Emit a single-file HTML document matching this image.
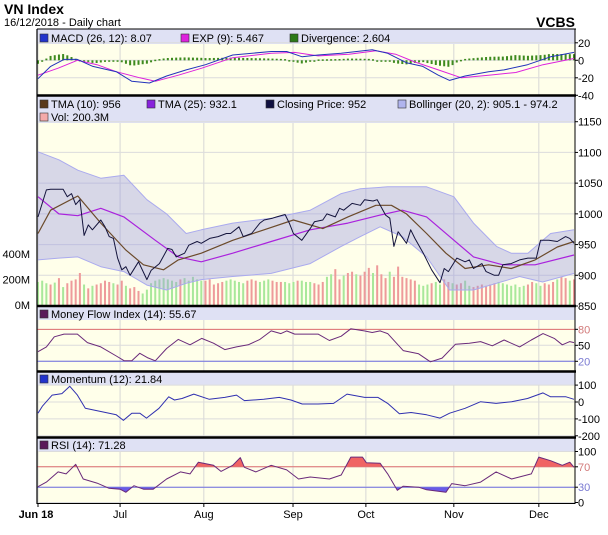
<!DOCTYPE html>
<html><head><meta charset="utf-8">
<style>
html,body{margin:0;padding:0;background:#fff;}
body{width:608px;height:530px;overflow:hidden;font-family:"Liberation Sans",sans-serif;}
svg text{font-family:"Liberation Sans",sans-serif;}
</style></head>
<body>
<svg id="chart" width="608" height="530" viewBox="0 0 608 530" xmlns="http://www.w3.org/2000/svg">
<text x="4" y="14" font-size="14" font-weight="bold" fill="#000">VN Index</text>
<text x="4" y="26" font-size="11" fill="#000">16/12/2018 - Daily chart</text>
<text x="575" y="27" font-size="14" font-weight="bold" fill="#000" text-anchor="end">VCBS</text>
<g id="layer"></g>
</svg>
<script>
// ---- data (day index from Jun 18, trading days) ----
const monthLabels = ["Jun 18","Jul","Aug","Sep","Oct","Nov","Dec"];
const monthDays = [0,19.6,39.6,60.9,78.3,99.3,119.6];
const closeDays = [0,2,3,6,7,8,9,10,11,12,13,15,16,17,18,19,20,21,22,24,26,27,29,31,32,33,35,36,38,39,41,43,45,46,48,49,51,53,54,56,57,59,60,61,63,65,66,68,69,71,72,73,75,77,78,80,81,83,84,85,86,88,89,90,92,94,96,97,98,100,102,103,104,106,107,109,110,111,113,115,117,119,120,122,124,126,127,128];
const closeVals = [995,1039,1040,1040,1028,1033,1015,1023,965,982,974,990,979,963,960,928,909,914,900,922,893,908,919,944,942,930,936,949,955,952,960,963,968,968,979,963,968,985,990,993,995,999,985,968,957,976,987,990,1000,995,1009,1006,1017,1014,1023,1021,1023,998,993,947,971,952,974,960,936,909,888,911,906,928,922,925,911,919,906,900,900,917,919,925,928,928,957,957,955,963,960,952];
const tma10Days = [0,3,9.5,15,21,25.2,30,33.5,39,46.5,54,61,68,74,80.7,84.4,88,92.8,97.4,102,107.6,113,118.7,124,128];
const tma10Vals = [968,1006,1029,985,941,917,909,925,936,957,974,990,976,995,1014,1014,1000,968,936,911,917,911,925,946,955];
const tma25Days = [0,5,9.5,15,20.5,28,33.5,39,46.5,55.7,65,74,81.7,87,92.8,98.3,104,111,118.7,128];
const tma25Vals = [1028,1000,997,1009,995,957,930,922,936,955,974,985,998,1006,995,963,930,917,917,933];
const bbUpDays = [0,5,9.5,15,20.5,26,30.7,35.4,39,46.5,55.7,65,72.4,77,83.5,88,92.8,99.3,104,109.5,113,117,122.4,128];
const bbUpVals = [1101,1088,1071,1058,1063,1023,1000,968,974,985,993,1006,1033,1041,1044,1044,1044,1028,985,947,936,936,968,974];
const bbLoDays = [0,5,9.5,15,20.5,26,30.7,35.4,39,46.5,55.7,65,72.4,77,81.7,87,92.8,98.3,104,109.5,115,120.5,128];
const bbLoVals = [925,928,930,914,906,884,876,887,893,898,903,919,947,963,979,963,930,876,876,887,898,889,903];
const volVals = [180,190,170,160,175,210,140,170,190,200,250,160,130,150,160,170,190,180,170,160,190,150,130,140,110,90,120,170,190,200,210,200,190,180,200,210,190,220,200,190,190,200,160,170,180,190,200,190,180,170,190,200,190,180,190,200,190,180,180,180,170,180,190,190,180,180,170,160,180,220,240,280,200,230,250,260,240,230,260,290,250,310,240,210,260,220,300,220,210,200,190,160,150,160,170,180,160,200,180,170,160,170,190,150,140,150,160,150,160,170,180,170,160,150,160,140,150,160,180,170,150,170,160,180,200,220,210,190,200];
const volDir = "gggrgrgrrrrgrgrrrrgrrgrrrgggggggggrgggggrrrrrgggggrrrgggrrrgggrgggrrrggrrgrrgrrrgrrrgrrrrrrgggrggrrgrrggrrrrrrgggggggrrggrrrgrrgr";
const macdDays = [0,3,6.2,9.4,13.1,18.7,22.4,26.6,30.7,35.4,40,46.5,55.7,59.4,63.1,66.9,72.4,79.8,83.5,88.1,91.9,95.6,98.3,102,107.6,111.3,116.9,122.4,128];
const macdVals = [-21,-7,1,1,-7,-13,-24,-26,-18,-11,-5,6,10,10,4,6,8,12,8,-3,-7,-17,-23,-18,-13,-11,-5,4,9];
const expDays = [0,4.8,9.4,14.1,18.7,24.3,28,33.5,39.1,46.5,55.7,61.3,66.9,74.3,80.7,85.4,90,95.6,101.1,107.6,114.1,120.6,128];
const expVals = [-17,-9,0,-5,-13,-20,-24,-17,-9,3,8,9,5,7,11,7,-2,-11,-20,-17,-14,-5,2];
const mfiDays = [0,2,3.9,6.2,9.4,11.8,15,18.7,20.6,22.4,24.3,26.1,28,30.7,33.5,36.3,39.1,41.9,44.6,47.4,50.2,53,55.7,58,59.4,61.3,66.9,69.6,72.4,74.7,77.9,79.8,81.7,83.5,87.2,90.9,93.7,96.5,99.7,103,105.7,108.5,111.3,115,117.8,120.6,123.3,125.2,127,128];
const mfiVals = [38,47,66,71,71,55,47,30,21,21,35,27,21,44,61,51,63,54,42,47,51,61,77,72,77,71,71,59,67,81,77,74,77,72,40,34,19,26,52,54,57,49,60,47,60,72,63,51,57,55];
const momDays = [0,1.1,3.4,5.7,7.6,9.4,11.3,15,18.7,20.4,22.4,24.3,25.9,28.9,31.2,32.6,34.4,37.2,40.9,44.6,47.4,49.3,53.9,57.6,60.4,63.1,66.9,70.6,73.8,78,81.2,83.5,86.3,89.1,92.8,96,98.3,102,105.7,109.4,113.1,116.9,120.6,122.4,126.1,128];
const momVals = [-66,-23,41,50,93,41,-37,-56,-76,-109,-66,-66,-95,-37,31,12,21,47,16,27,41,8,16,27,12,-12,-12,-8,47,27,27,-8,-70,-62,-76,-95,-66,-37,2,-8,2,21,54,31,31,16];
const rsiDays = [0,2,4.8,6.7,9,10.8,14.1,16.9,19.6,21,22.9,25.2,27.5,30.7,34,36.3,38.3,41.9,43.7,46.5,48.3,49.3,52,55.7,59.4,62.2,65,69.6,72.4,74.7,77.5,78.4,81.7,83.5,85.8,87.2,90.9,92.8,97.4,98.8,102,105.7,109.4,113.1,117.8,119.6,122.4,125.2,127,128];
const rsiVals = [31,40,60,56,75,46,38,28,26,20,33,26,26,46,60,56,79,73,61,73,88,69,60,73,64,46,50,46,54,89,89,78,77,56,24,32,30,25,20,37,33,40,60,46,56,89,82,73,79,69];

// ---- layout helpers ----
const X0 = 38, X1 = 574, L = 37, R = 575;
const dx = d => X0 + d * (X1 - X0) / 128;
const NS = "http://www.w3.org/2000/svg";
const layer = document.getElementById('layer');
function mk(tag, attrs, parent) {
  const e = document.createElementNS(NS, tag);
  for (const k in attrs) e.setAttribute(k, attrs[k]);
  (parent || layer).appendChild(e);
  return e;
}
function pts(days, vals, fy) { return days.map((d, i) => dx(d).toFixed(1) + ',' + fy(vals[i]).toFixed(1)).join(' '); }
function interp(days, vals, d) {
  if (d <= days[0]) return vals[0];
  for (let i = 1; i < days.length; i++) if (d <= days[i]) { const t = (d - days[i-1]) / (days[i] - days[i-1]); return vals[i-1] + t * (vals[i] - vals[i-1]); }
  return vals[vals.length - 1];
}
function panel(name, top, legendH, bottom) {
  const g = mk('g', {});
  
  
  mk('rect', {x: L, y: top, width: R - L, height: bottom - top, fill: '#ffffea'}, g);
  mk('rect', {x: L, y: top, width: R - L, height: legendH, fill: '#dfe1f4'}, g);
  monthDays.forEach(d => mk('line', {x1: dx(d), x2: dx(d), y1: top + legendH, y2: bottom, stroke: '#d6d6d6', 'stroke-width': 1}, g));
  return g;
}
function hgrid(g, ys, labels, colors) {
  ys.forEach((y, i) => {
    mk('line', {x1: L, x2: R, y1: y, y2: y, stroke: '#dcdcdc', 'stroke-width': 1}, g);
    mk('line', {x1: R, x2: R + 3, y1: y, y2: y, stroke: '#000'}, g);
    const t = mk('text', {x: R + 3, y: y + 4, 'font-size': 11, fill: colors ? colors[i] : '#000'}, g);
    t.textContent = labels[i];
    
    
  });
}
function legend(g, items, y) {
  items.forEach(it => {
    const s = mk('g', {}, g);
    
    
    mk('rect', {x: it.x, y: y - 8, width: 8, height: 8, fill: it.c, stroke: '#333', 'stroke-width': 0.6}, s);
    const t = mk('text', {x: it.x + 11, y: y, 'font-size': 11, fill: '#000'}, s);
    t.textContent = it.t;
  });
}
function line(g, name, days, vals, fy, color, w) {
  const p = mk('polyline', {points: pts(days, vals, fy), fill: 'none', stroke: color, 'stroke-width': w || 1, 'stroke-linejoin': 'round'}, g);
  
  
  return p;
}

// ---- MACD panel ----
const my = v => 60.3 - v * 0.875;
let g = panel('macd-panel', 29, 15, 95);
hgrid(g, [my(20), my(0), my(-20), my(-40)], ['20', '0', '-20', '-40']);
for (let d = 0; d <= 128; d++) {
  const diff = (interp(macdDays, macdVals, d) - interp(expDays, expVals, d)) * 1.0;
  const b = mk('rect', {x: dx(d) - 1, y: Math.min(my(0), my(diff)), width: 2, height: Math.max(1.5, Math.abs(my(diff) - my(0))), fill: '#3d8a1e'}, g);
  
  
}
line(g, 'exp-line', expDays, expVals, my, '#dd22dd', 1);
line(g, 'macd-line', macdDays, macdVals, my, '#2233bb', 1);
legend(g, [{x: 40, c: '#2233cc', t: 'MACD (26, 12): 8.07', name: 'legend-macd'}, {x: 181, c: '#dd22dd', t: 'EXP (9): 5.467', name: 'legend-exp'}, {x: 290, c: '#2d7a18', t: 'Divergence: 2.604', name: 'legend-divergence'}], 42);

// ---- Price panel ----
const py = v => 306 - (v - 850) * 0.6143;
const vy = v => 305 - v * 0.128;
g = panel('price-panel', 96, 27, 305);
hgrid(g, [py(1150), py(1100), py(1050), py(1000), py(950), py(900), py(850)], ['1150', '1100', '1050', '1000', '950', '900', '850']);
['400M', '200M', '0M'].forEach((s, i) => {
  const t = mk('text', {x: 30, y: vy([400, 200, 0][i]) + 4, 'font-size': 11, 'text-anchor': 'end', fill: '#000'}, g);
  t.textContent = s;
  
  
});
volVals.forEach((v, i) => {
  const d = i * 128 / (volVals.length - 1);
  const b = mk('rect', {x: dx(d) - 1, y: vy(v), width: 2, height: 305 - vy(v), fill: volDir[i] === 'r' ? '#ee9a9a' : '#a8e89a'}, g);
  
  
});
const bbPath = pts(bbUpDays, bbUpVals, py) + ' ' + bbLoDays.map((d, i) => dx(d).toFixed(1) + ',' + py(bbLoVals[i]).toFixed(1)).reverse().join(' ');
const band = mk('polygon', {points: bbPath, fill: 'rgba(150,150,225,0.38)', stroke: 'none'}, g);


line(g, 'bollinger-upper', bbUpDays, bbUpVals, py, '#aaaaee', 1);
line(g, 'bollinger-lower', bbLoDays, bbLoVals, py, '#aaaaee', 1);
line(g, 'tma25-line', tma25Days, tma25Vals, py, '#aa22dd', 1.2);
line(g, 'tma10-line', tma10Days, tma10Vals, py, '#6b4a2a', 1.2);
line(g, 'closing-price-line', closeDays, closeVals, py, '#14143c', 1);
legend(g, [{x: 40, c: '#5a3a1a', t: 'TMA (10): 956', name: 'legend-tma10'}, {x: 147, c: '#8822dd', t: 'TMA (25): 932.1', name: 'legend-tma25'}, {x: 266, c: '#101040', t: 'Closing Price: 952', name: 'legend-close'}, {x: 398, c: '#b0b4ee', t: 'Bollinger (20, 2): 905.1 - 974.2', name: 'legend-bollinger'}], 108);
legend(g, [{x: 40, c: '#f4aaaa', t: 'Vol: 200.3M', name: 'legend-volume'}], 121);

// ---- MFI panel ----
const fy = v => 361.3 - (v - 20) * 0.533;
g = panel('mfi-panel', 307, 13, 371);
hgrid(g, [fy(80), fy(50), fy(20)], ['80', '50', '20'], ['#d27a7a', '#000', '#7a7ad2']);
mk('line', {x1: L, x2: R, y1: fy(80), y2: fy(80), stroke: '#e07070'}, g);
mk('line', {x1: L, x2: R, y1: fy(20), y2: fy(20), stroke: '#7070e0'}, g);
line(g, 'mfi-line', mfiDays, mfiVals, fy, '#6a2a7a', 1);
legend(g, [{x: 40, c: '#5a1a5a', t: 'Money Flow Index (14): 55.67', name: 'legend-mfi'}], 318);

// ---- Momentum panel ----
const oy = v => 402 - v * 0.169;
g = panel('momentum-panel', 372, 13, 437);
hgrid(g, [oy(100), oy(0), oy(-100), oy(-200)], ['100', '0', '-100', '-200']);
line(g, 'momentum-line', momDays, momVals, oy, '#3030b0', 1);
legend(g, [{x: 40, c: '#2233cc', t: 'Momentum (12): 21.84', name: 'legend-momentum'}], 383);

// ---- RSI panel ----
const ry = v => 502.5 - v * 0.51;
g = panel('rsi-panel', 438, 13, 503);
hgrid(g, [ry(100), ry(70), ry(30), ry(0)], ['100', '70', '30', '0'], ['#000', '#d27a7a', '#7a7ad2', '#000']);
const defs = mk('defs', {}, g);
const c1 = mk('clipPath', {id: 'above70'}, defs); mk('rect', {x: L, y: 438, width: R - L, height: ry(70) - 438}, c1);
const c2 = mk('clipPath', {id: 'below30'}, defs); mk('rect', {x: L, y: ry(30), width: R - L, height: 503 - ry(30)}, c2);
const rp = pts(rsiDays, rsiVals, ry);
const fa = mk('polygon', {points: dx(0) + ',' + ry(70) + ' ' + rp + ' ' + dx(128) + ',' + ry(70), fill: '#f06464', 'clip-path': 'url(#above70)'}, g);


const fb = mk('polygon', {points: dx(0) + ',' + ry(30) + ' ' + rp + ' ' + dx(128) + ',' + ry(30), fill: '#6a5ae6', 'clip-path': 'url(#below30)'}, g);


mk('line', {x1: L, x2: R, y1: ry(70), y2: ry(70), stroke: '#e07070'}, g);
mk('line', {x1: L, x2: R, y1: ry(30), y2: ry(30), stroke: '#7070e0'}, g);
line(g, 'rsi-line', rsiDays, rsiVals, ry, '#6a2a7a', 1);
legend(g, [{x: 40, c: '#5a1a5a', t: 'RSI (14): 71.28', name: 'legend-rsi'}], 449);

// ---- frames / separators ----
[29, 95.5, 306, 371.5, 437.5].forEach(y => mk('line', {x1: L, x2: R + 1, y1: y, y2: y, stroke: '#000', 'stroke-width': y === 29 ? 1 : 2.5}));
mk('line', {x1: L, x2: L, y1: 29, y2: 504, stroke: '#000', 'stroke-width': 1.2});
mk('line', {x1: R, x2: R, y1: 29, y2: 504, stroke: '#000', 'stroke-width': 1});
mk('line', {x1: L, x2: R, y1: 503.5, y2: 503.5, stroke: '#000', 'stroke-width': 1});

// ---- x axis ----
monthLabels.forEach((s, i) => {
  mk('line', {x1: dx(monthDays[i]), x2: dx(monthDays[i]), y1: 503, y2: 507, stroke: '#000'});
  const t = mk('text', {x: dx(monthDays[i]) + (i === 0 ? -2 : 0), y: 518, 'font-size': 11, 'text-anchor': 'middle', 'font-weight': i === 0 ? 'bold' : 'normal', fill: '#000'});
  t.textContent = s;
  
  
});
</script>
</body></html>
